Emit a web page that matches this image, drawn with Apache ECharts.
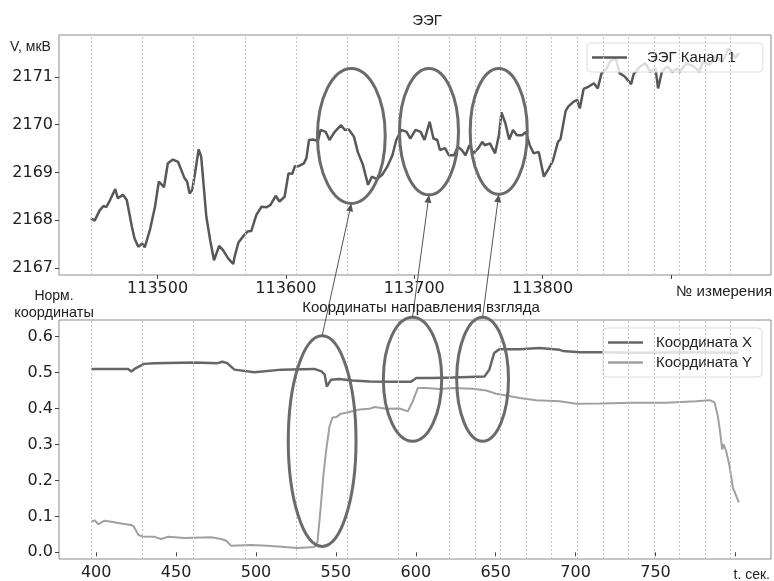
<!DOCTYPE html>
<html>
<head>
<meta charset="utf-8">
<script src="https://cdn.jsdelivr.net/npm/echarts@6/dist/echarts.min.js"></script>
<style>html,body{margin:0;padding:0;background:#fff}#chart{width:774px;height:581px}</style>
</head>
<body>
<div id="chart"></div>
<script>
// EEG channel (measurement number -> microvolts)
const eegIdx = [113448,113451,113455,113458,113460,113463,113467,113469,113473,113476,113480,113482,113485,113488,113490,113494,113498,113501,113505,113508,113512,113516,113521,113523,113525,113527,113529,113532,113534,113536,113538,113541,113544,113548,113551,113555,113559,113560,113563,113567,113570,113573,113577,113581,113585,113588,113592,113595,113599,113602,113605,113607,113610,113614,113616,113618,113621,113625,113627,113631,113634,113638,113643,113646,113649,113653,113656,113660,113664,113667,113671,113675,113679,113683,113686,113690,113694,113697,113701,113705,113708,113712,113715,113718,113720,113724,113727,113731,113734,113737,113740,113743,113746,113750,113753,113755,113759,113763,113766,113768,113771,113774,113777,113780,113784,113787,113790,113793,113797,113801,113805,113808,113812,113814,113818,113820,113824,113827,113829,113832,113836,113840,113843,113846,113850,113853,113857,113860,113864,113869,113871,113876,113880,113884,113888,113890,113893,113897,113901,113905,113907,113912,113918,113922,113925,113930,113935,113940,113945,113950,113953];
const eegVal = [2168.04,2167.99,2168.21,2168.30,2168.27,2168.42,2168.65,2168.46,2168.53,2168.42,2167.86,2167.62,2167.44,2167.51,2167.43,2167.79,2168.28,2168.81,2168.69,2169.19,2169.27,2169.22,2168.88,2168.81,2168.56,2168.63,2168.95,2169.48,2169.33,2168.70,2168.07,2167.58,2167.16,2167.46,2167.37,2167.20,2167.08,2167.23,2167.53,2167.67,2167.76,2167.77,2168.11,2168.28,2168.27,2168.32,2168.51,2168.39,2168.49,2168.98,2168.97,2169.13,2169.13,2169.19,2169.30,2169.68,2169.69,2169.66,2169.89,2169.85,2169.68,2169.85,2169.99,2169.89,2169.90,2169.75,2169.43,2169.16,2168.74,2168.91,2168.86,2168.95,2169.12,2169.36,2169.68,2169.89,2169.85,2169.71,2169.89,2169.85,2169.68,2170.06,2169.71,2169.68,2169.47,2169.51,2169.36,2169.36,2169.54,2169.47,2169.36,2169.57,2169.40,2169.51,2169.64,2169.57,2169.61,2169.40,2169.78,2170.26,2170.03,2169.69,2169.89,2169.78,2169.78,2169.85,2169.57,2169.40,2169.43,2168.91,2169.09,2169.24,2169.64,2169.70,2170.29,2170.38,2170.48,2170.52,2170.34,2170.75,2170.80,2170.87,2170.76,2171.08,2171.18,2171.34,2171.39,2171.08,2171.01,2170.85,2171.06,2171.22,2171.29,2171.11,2171.18,2170.76,2171.11,2171.22,2171.11,2171.18,2171.11,2171.29,2171.22,2171.11,2171.32,2171.25,2171.45,2171.30,2171.60,2171.40,2171.50];

// gaze coordinates (seconds -> normalised)
const tX = [397,420,422,424,430,436.5,461.5,476,479,482,486.5,499,516,536.5,541,543,544.3,547,552,560.5,571,587.5,597,600.3,610.5,623,643,646,649,652.4,665,677.4,690,692,702.5,715,740,770,802];
const coordX = [0.510,0.510,0.503,0.510,0.524,0.526,0.528,0.526,0.530,0.526,0.508,0.501,0.508,0.510,0.503,0.494,0.461,0.480,0.482,0.478,0.475,0.474,0.474,0.485,0.485,0.486,0.489,0.508,0.554,0.565,0.565,0.568,0.563,0.560,0.556,0.556,0.555,0.556,0.555];
const tY = [397,399,401.4,405.2,409.4,415.6,421.9,423.5,426.5,429.2,436.5,440.7,444.8,455.3,472,478.2,481.4,484.5,497,507.4,517.8,526.2,536.6,538.5,540.4,542.3,544.1,546,547.9,550.4,552.9,556.4,564.8,571,574.2,581.5,589.8,595,598.1,601.3,606.5,614.8,623.2,635.7,644.1,650.3,656.6,664.9,675.3,689.9,700.4,715,735.8,756.7,775.5,783.8,786.9,789,790.5,791.7,792.6,794.2,796.3,798.4,800.5,802.1];
const coordY = [0.085,0.089,0.078,0.088,0.085,0.080,0.076,0.072,0.048,0.044,0.043,0.037,0.043,0.040,0.042,0.037,0.032,0.018,0.020,0.018,0.015,0.012,0.015,0.03,0.12,0.22,0.29,0.35,0.375,0.376,0.385,0.388,0.397,0.399,0.404,0.399,0.400,0.392,0.420,0.457,0.457,0.454,0.457,0.455,0.450,0.441,0.436,0.429,0.423,0.420,0.413,0.414,0.416,0.416,0.420,0.423,0.417,0.378,0.332,0.286,0.300,0.281,0.240,0.180,0.157,0.139];

// dotted event markers, seconds
const eventTimes = [397,429,461,493,525,557,589,621,637,653,669,685,701,717,733,749,765,781,797];

// ticks
const eegTicks = [113500,113600,113700,113800,113900];
const eegTickLabels = [113500,113600,113700,113800];
const voltTicks = [2167,2168,2169,2170,2171];
const timeTicks = [400,450,500,550,600,650,700,750,800];
const timeTickLabels = [400,450,500,550,600,650,700,750];
const coordTicks = [0,0.1,0.2,0.3,0.4,0.5,0.6];

// highlighted regions [xFrom, xTo, yTop, yBottom] in data units
const eegMarks = [[113624.6,113677.4,2171.18,2168.35],[113688.5,113734.5,2171.18,2168.53],[113743.6,113788.1,2171.18,2168.54]];
const gazeMarks = [[520.2,562.6,0.6025,0.0165],[579.7,616.2,0.6535,0.309],[625.6,658.0,0.6535,0.309]];

const zip = (a, b) => a.map((v, i) => [v, b[i]]);
const TICK_FONT = 'DejaVu Sans';
const TEXT_FONT = 'Liberation Sans, Arial, sans-serif';

const valueAxis = (grid, min, max, ticks, labels, fmt) => ({
    type: 'value', gridIndex: grid, min: min, max: max,
    axisLine: { show: false },
    splitLine: { show: false },
    axisTick: { customValues: ticks, length: 4, lineStyle: { color: '#444' } },
    axisLabel: { customValues: labels, fontFamily: TICK_FONT, fontSize: 16, color: '#222', margin: 6, formatter: fmt }
});

const eventLines = {
    symbol: ['none', 'none'], silent: true, animation: false,
    label: { show: false },
    lineStyle: { type: [2, 2], color: '#c2c2c2', width: 1 },
    emphasis: { disabled: true },
    data: eventTimes.map(t => ({ xAxis: t }))
};

const legendBox = {
    backgroundColor: 'rgba(255,255,255,0.8)', borderColor: '#dcdcdc', borderWidth: 1, borderRadius: 4
};

const chart = echarts.init(document.getElementById('chart'));
chart.setOption({
    animation: false,
    backgroundColor: '#fff',
    grid: [
        { left: 59, right: 3, top: 35, height: 240, show: true, borderColor: '#8c8c8c', borderWidth: 1 },
        { left: 59, right: 3, top: 320, height: 240, show: true, borderColor: '#8c8c8c', borderWidth: 1 }
    ],
    xAxis: [
        valueAxis(0, 113423.2, 113978, eegTicks, eegTickLabels, v => String(v)),
        { type: 'value', gridIndex: 0, min: 376.75, max: 822.25, show: false },
        valueAxis(1, 376.75, 822.25, timeTicks, timeTickLabels, v => String(v))
    ],
    yAxis: [
        valueAxis(0, 2166.85, 2171.88, voltTicks, voltTicks, v => String(v)),
        valueAxis(1, -0.0186, 0.646, coordTicks, coordTicks, v => v.toFixed(1))
    ],
    legend: [
        Object.assign({
            data: [{ name: 'ЭЭГ Канал 1', icon: 'rect' }], left: 587, top: 43, padding: [7, 27, 7, 5],
            itemWidth: 35, itemHeight: 2.5,
            textStyle: { fontFamily: TEXT_FONT, fontSize: 15, color: '#222', padding: [0, 0, 0, 15] }
        }, legendBox),
        Object.assign({
            data: [{ name: 'Координата X', icon: 'rect' }, { name: 'Координата Y', icon: 'rect' }],
            orient: 'vertical', left: 603, top: 328, padding: [7, 10, 7, 5],
            itemWidth: 35, itemHeight: 2.5, itemGap: 5,
            textStyle: { fontFamily: TEXT_FONT, fontSize: 15, color: '#222', padding: [0, 0, 0, 8] }
        }, legendBox)
    ],
    series: [
        { type: 'line', xAxisIndex: 1, yAxisIndex: 0, data: [], z: 1, markLine: eventLines },
        { type: 'line', xAxisIndex: 2, yAxisIndex: 1, data: [], z: 1, markLine: eventLines },
        {
            name: 'ЭЭГ Канал 1', type: 'line', xAxisIndex: 0, yAxisIndex: 0, z: 3,
            data: zip(eegIdx, eegVal), symbol: 'none',
            itemStyle: { color: '#585858' }, lineStyle: { color: '#585858', width: 2.5 }
        },
        {
            name: 'Координата X', type: 'line', xAxisIndex: 2, yAxisIndex: 1, z: 3,
            data: zip(tX, coordX), symbol: 'none',
            itemStyle: { color: '#666' }, lineStyle: { color: '#666', width: 2.5 }
        },
        {
            name: 'Координата Y', type: 'line', xAxisIndex: 2, yAxisIndex: 1, z: 3,
            data: zip(tY, coordY), symbol: 'none',
            itemStyle: { color: '#a0a0a0' }, lineStyle: { color: '#a0a0a0', width: 2 }
        }
    ]
});

// annotations: ellipses around regions and arrows linking them
const toPx = (xi, yi, p) => chart.convertToPixel({ xAxisIndex: xi, yAxisIndex: yi }, p);
const ellipseOf = (xi, yi, b) => {
    const a = toPx(xi, yi, [b[0], b[2]]), c = toPx(xi, yi, [b[1], b[3]]);
    return { cx: (a[0] + c[0]) / 2, cy: (a[1] + c[1]) / 2, rx: (c[0] - a[0]) / 2, ry: (c[1] - a[1]) / 2 };
};
const topEll = eegMarks.map(b => ellipseOf(0, 0, b));
const botEll = gazeMarks.map(b => ellipseOf(2, 1, b));

const graphics = [];
topEll.concat(botEll).forEach(e => graphics.push({
    type: 'ellipse', z: 50, silent: true,
    shape: { cx: e.cx, cy: e.cy, rx: e.rx, ry: e.ry },
    style: { fill: null, stroke: '#6b6b6b', lineWidth: 3 }
}));
botEll.forEach((b, i) => {
    const t = topEll[i];
    const x1 = b.cx, y1 = b.cy - b.ry, x2 = t.cx, y2 = t.cy + t.ry;
    const ang = Math.atan2(y2 - y1, x2 - x1), L = 8, W = 3.5;
    const bx = x2 - L * Math.cos(ang), by = y2 - L * Math.sin(ang);
    graphics.push({ type: 'line', z: 51, silent: true, shape: { x1: x1, y1: y1, x2: bx, y2: by }, style: { stroke: '#555', lineWidth: 1 } });
    graphics.push({
        type: 'polygon', z: 51, silent: true,
        shape: { points: [[x2, y2], [bx - W * Math.sin(ang), by + W * Math.cos(ang)], [bx + W * Math.sin(ang), by - W * Math.cos(ang)]] },
        style: { fill: '#555' }
    });
});

const txt = (s, x, y, size, align) => ({
    type: 'text', x: x, y: y, z: 60, silent: true,
    style: { text: s, fontFamily: TEXT_FONT, fontSize: size, fill: '#222', align: align, verticalAlign: 'middle' }
});
graphics.push(
    txt('ЭЭГ', 427, 21, 15, 'center'),
    txt('V, мкВ', 10, 47, 14, 'left'),
    txt('№ измерения', 772, 292, 15, 'right'),
    txt('Норм.', 54, 296, 14, 'center'),
    txt('координаты', 54, 313, 14.5, 'center'),
    txt('Координаты направления взгляда', 421, 308, 15, 'center'),
    txt('t. сек.', 770, 575, 14, 'right')
);
chart.setOption({ graphic: graphics });
</script>
</body>
</html>
